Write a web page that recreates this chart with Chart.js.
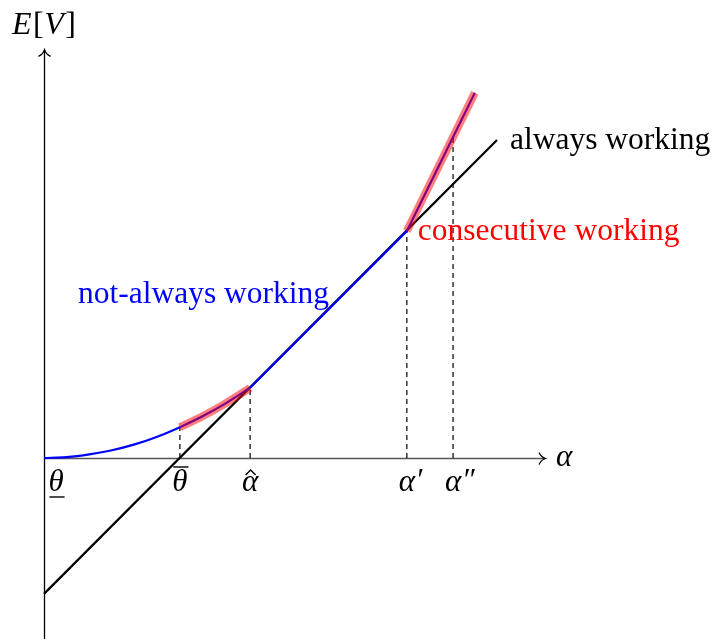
<!DOCTYPE html>
<html>
<head>
<meta charset="utf-8">
<script src="https://cdn.jsdelivr.net/npm/chart.js@4/dist/chart.umd.min.js"></script>
<style>
  html, body { margin: 0; padding: 0; background: #ffffff; }
  canvas { display: block; }
</style>
</head>
<body>
<canvas id="chart" width="712" height="639"></canvas>
<script>
// Effort threshold α on the horizontal axis, expected value E[V] on the vertical one.

// Marked thresholds on the α axis
const thresholdAlpha = [0, 3.0, 4.55, 8.01, 9.03];
const thresholdNames = ['θ', 'θ', 'α', 'α′', 'α″'];
const thresholdMarks = ['under', 'over', 'hat', '', ''];

// Always working: straight line through θ̄
const alwaysAlpha = [0, 10.0];
const alwaysValue = [-3.0, 7.02];

// Not-always working: convex part up to α̂ ...
const curveAlpha = [0, 0.5, 1, 1.5, 2, 2.5, 3, 3.5, 4, 4.55];
const curveValue = [0, 0.02, 0.08, 0.17, 0.30, 0.47, 0.68, 0.92, 1.20, 1.55];
// ... then along the always-working line, then the steeper branch after α′
const straightAlpha = [4.55, 8.01, 9.51];
const straightValue = [1.55, 5.01, 8.06];

// Consecutive working stretches (highlighted)
const consecLowAlpha = [3.0, 3.5, 4, 4.55];
const consecLowValue = [0.68, 0.92, 1.20, 1.55];
const consecHighAlpha = [8.01, 9.51];
const consecHighValue = [5.01, 8.06];

// Dashed guides from the curves down to the α axis
const guideAlpha = [3.0, 4.55, 8.01, 9.03];
const guideTop = [0.68, 1.55, 5.01, 7.08];

// Axis extents
const axisAlphaEnd = 11.06;
const axisValueTop = 9.0;
const axisValueBottom = -4.3;

// Visible window (one unit = 45.3 px)
const UNIT = 45.3;
const X_MIN = -44 / UNIT;
const X_MAX = X_MIN + 712 / UNIT;
const Y_MAX = 458 / UNIT;
const Y_MIN = Y_MAX - 639 / UNIT;

const pts = (xs, ys) => xs.map((x, i) => ({ x: x, y: ys[i] }));

const SERIF = '"Liberation Serif", "DejaVu Serif", serif';
const TEXT_SIZE = 31.5;
const MATH_SIZE = 31;

const datasets = [];

guideAlpha.forEach((a, i) => {
  datasets.push({
    data: pts([a, a], [0, guideTop[i]]),
    borderColor: '#000000',
    borderWidth: 1.2,
    borderDash: [5, 4],
    order: 5
  });
});

datasets.push({
  data: pts(alwaysAlpha, alwaysValue),
  borderColor: '#000000',
  borderWidth: 2.2,
  order: 4
});

datasets.push({
  data: pts(curveAlpha, curveValue),
  borderColor: '#0000ff',
  borderWidth: 2.2,
  cubicInterpolationMode: 'monotone',
  order: 3
});

datasets.push({
  data: pts(straightAlpha, straightValue),
  borderColor: '#0000ff',
  borderWidth: 2.2,
  order: 3
});

datasets.push({
  data: pts(consecLowAlpha, consecLowValue),
  borderColor: 'rgba(255,0,0,0.5)',
  borderWidth: 8,
  cubicInterpolationMode: 'monotone',
  order: 1
});

datasets.push({
  data: pts(consecHighAlpha, consecHighValue),
  borderColor: 'rgba(255,0,0,0.5)',
  borderWidth: 8,
  order: 1
});

datasets.forEach(d => {
  d.showLine = true;
  d.pointRadius = 0;
  d.pointHoverRadius = 0;
  d.fill = false;
  d.tension = 0;
  d.clip = false;
});

// TikZ-style "to" arrow tip pointing along `angle`
function arrowTip(ctx, x, y, angle) {
  ctx.save();
  ctx.translate(x, y);
  ctx.rotate(angle);
  ctx.beginPath();
  ctx.moveTo(-6, -6);
  ctx.bezierCurveTo(-4.5, -2.6, -2, -0.8, 0.5, 0);
  ctx.bezierCurveTo(-2, 0.8, -4.5, 2.6, -6, 6);
  ctx.strokeStyle = '#000000';
  ctx.lineWidth = 1.3;
  ctx.stroke();
  ctx.restore();
}

const axesPlugin = {
  id: 'axes',
  beforeDatasetsDraw(chart) {
    const ctx = chart.ctx;
    const xs = chart.scales.x, ys = chart.scales.y;
    const x0 = xs.getPixelForValue(0);
    const y0 = ys.getPixelForValue(0);
    const xEnd = xs.getPixelForValue(axisAlphaEnd);
    const yTop = ys.getPixelForValue(axisValueTop);
    const yBot = ys.getPixelForValue(axisValueBottom);
    ctx.save();
    // α axis
    ctx.strokeStyle = '#555555';
    ctx.lineWidth = 1.6;
    ctx.beginPath();
    ctx.moveTo(x0, y0 + 0.5);
    ctx.lineTo(xEnd, y0 + 0.5);
    ctx.stroke();
    arrowTip(ctx, xEnd, y0 + 0.5, 0);
    // E[V] axis
    ctx.strokeStyle = '#000000';
    ctx.lineWidth = 1.3;
    ctx.beginPath();
    ctx.moveTo(x0 + 0.5, yBot);
    ctx.lineTo(x0 + 0.5, yTop);
    ctx.stroke();
    arrowTip(ctx, x0 + 0.5, yTop, -Math.PI / 2);
    ctx.restore();
  }
};

const labelsPlugin = {
  id: 'labels',
  afterDatasetsDraw(chart) {
    const ctx = chart.ctx;
    const xs = chart.scales.x, ys = chart.scales.y;
    const px = v => xs.getPixelForValue(v);
    const py = v => ys.getPixelForValue(v);
    ctx.save();
    ctx.textBaseline = 'alphabetic';
    ctx.textAlign = 'left';

    // Curve names
    ctx.font = TEXT_SIZE + 'px ' + SERIF;
    ctx.fillStyle = '#000000';
    ctx.fillText('always working', px(alwaysAlpha[1]) + 13, py(alwaysValue[1]) + 9);
    ctx.fillStyle = '#ff0000';
    ctx.fillText('consecutive working', px(consecHighAlpha[0]) + 11, py(consecHighValue[0]) + 9);
    ctx.fillStyle = '#0000ff';
    ctx.fillText('not-always working', 78, 303);

    // Axis titles
    ctx.fillStyle = '#000000';
    const parts = [['E', true], ['[', false], ['V', true], [']', false]];
    let tx = 12;
    parts.forEach(([s, it]) => {
      ctx.font = (it ? 'italic ' : '') + '32px ' + SERIF;
      ctx.fillText(s, tx, 34);
      tx += ctx.measureText(s).width + (it ? 1.5 : 0.5);
    });
    ctx.font = 'italic ' + MATH_SIZE + 'px ' + SERIF;
    ctx.fillText('α', px(axisAlphaEnd) + 11, py(0) + 8);

    // Threshold labels under the α axis
    const base = py(0) + 33;
    thresholdAlpha.forEach((a, i) => {
      let cx = px(a);
      if (i === 0) cx += 12;
      ctx.font = 'italic ' + MATH_SIZE + 'px ' + SERIF;
      const name = thresholdNames[i];
      const sym = name.charAt(0);
      const suffix = name.slice(1);
      const w = ctx.measureText(sym).width;
      const symLeft = cx - w / 2;
      ctx.fillText(sym, symLeft, base);
      if (suffix) ctx.fillText(suffix, symLeft + w + 0.5, base - 1);
      ctx.strokeStyle = '#000000';
      ctx.lineWidth = 1.4;
      const mark = thresholdMarks[i];
      if (mark === 'under') {
        ctx.beginPath();
        ctx.moveTo(symLeft + 1, base + 6);
        ctx.lineTo(symLeft + w + 1, base + 6);
        ctx.stroke();
      } else if (mark === 'over') {
        ctx.beginPath();
        ctx.moveTo(symLeft + 1, base - 24);
        ctx.lineTo(symLeft + w + 1, base - 24);
        ctx.stroke();
      } else if (mark === 'hat') {
        ctx.beginPath();
        ctx.moveTo(cx - 4.5, base - 16);
        ctx.lineTo(cx + 0.5, base - 21);
        ctx.lineTo(cx + 5.5, base - 16);
        ctx.stroke();
      }
    });
    ctx.restore();
  }
};

new Chart(document.getElementById('chart'), {
  type: 'scatter',
  data: { datasets: datasets },
  options: {
    responsive: false,
    animation: false,
    events: [],
    layout: { padding: 0 },
    plugins: { legend: { display: false }, tooltip: { enabled: false } },
    scales: {
      x: { type: 'linear', min: X_MIN, max: X_MAX, display: false },
      y: { type: 'linear', min: Y_MIN, max: Y_MAX, display: false }
    }
  },
  plugins: [axesPlugin, labelsPlugin]
});
</script>
</body>
</html>
